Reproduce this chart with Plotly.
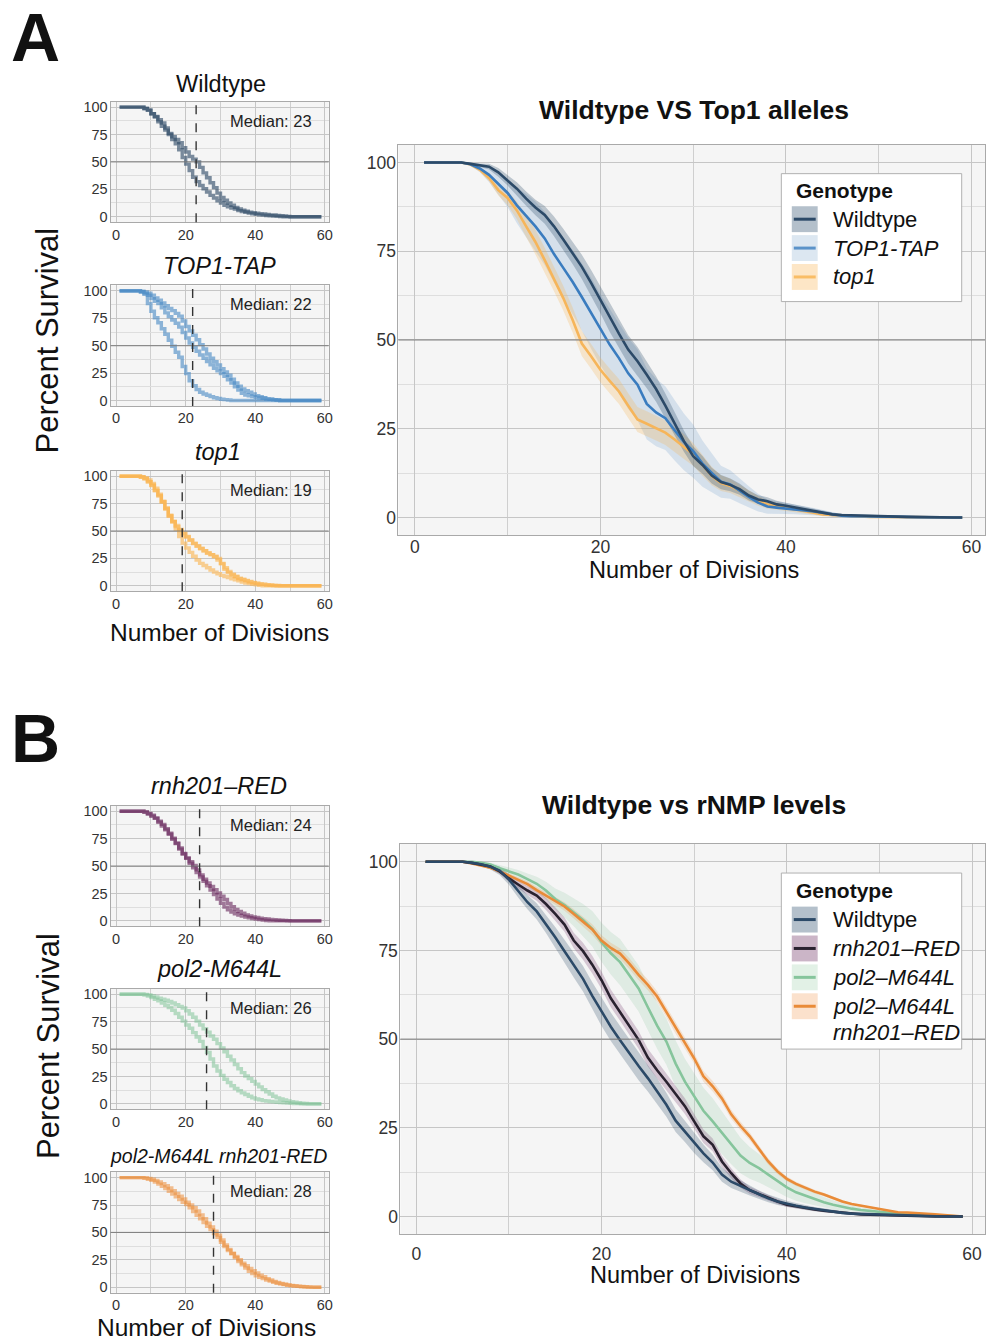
import plotly.graph_objects as go

W, H = 989, 1342
FONT = "Liberation Sans, Arial, sans-serif"
DIV = list(range(1, 60))

# ---------------- Panel A big plot: mean % survival and CI half-width ----------------
WT_A = [100,100,100,100,100, 99.6,99.2,98.8,97.2,95, 92.6,89.8,87.3,85.2,82, 78.3,74.6,70.6,66.1,61.3,
        56.3,51.8,47.3,44,40.2, 36.2,31.5,26.4,21.5,17.3, 14.8,11.8,10,9.2,8, 6.2,5.1,4.6,3.7,3.3,
        2.8,2.4,1.9,1.4,0.9, 0.7,0.6,0.5,0.4,0.4, 0.3,0.3,0.2,0.2,0.1, 0.1,0,0,0]
WT_A_CI = [0,0,0,0,0, 0.3,0.5,0.8,1.2,1.5, 1.8,2,2.2,2.5,2.8, 3,3.2,3.4,3.6,3.8, 4,4,4,4,3.8,
           3.6,3.4,3.2,3,2.8, 2.5,2.2,2,1.8,1.6, 1.4,1.2,1.1,1,0.9, 0.8,0.7,0.6,0.5,0.5,
           0.4,0.4,0.3,0.3,0.3, 0.3,0.2,0.2,0.2,0.1, 0.1,0,0,0]
TAP_A = [100,100,100,100,100, 99.5,98.3,96.5,94,91.4, 87.9,85.1,82,78.6,74.2, 70.3,66.4,62.1,57.5,52.9,
         48.7,44.9,40.6,37.4,32, 29.6,28,24.6,21.3,18.7, 15.2,12.6,10.1,9.3,7.5, 5.8,4.2,3.1,2.8,2.6,
         2.3,2.0,1.7,1.3,0.9, 0.5,0.4,0.4,0.3,0.3, 0.3,0.2,0.2,0.1,0.1, 0.1,0,0,0]
TAP_A_CI = [0,0,0,0,0, 0.5,1,2,3,4, 5,6,7,7.5,8, 8.5,9,9.5,10,10, 10,10,10,10,10, 9.5,9,8.5,8,7.5,
            6.5,5.5,4.5,4,3.5, 3,2.5,2,1.8,1.6, 1.4,1.2,1,0.8,0.6, 0.4,0.4,0.3,0.3,0.3,
            0.3,0.2,0.2,0.1,0.1, 0.1,0,0,0]
TOP1_A = [100,100,100,100,100, 99.4,98,95.6,92.2,90, 86.5,82,77.6,72.5,67.2, 61.8,55.7,49,45.4,41.6,
          38.5,35.5,31.5,27.6,26.4, 25.2,23.9,22,20,17.8, 14.8,11.7,9.7,8.9,7.5, 6.1,4.7,3.7,3.2,2.8,
          2.3,1.9,1.4,0.9,0.7, 0.5,0.4,0.3,0.2,0.2, 0.1,0.1,0.1,0,0, 0,0,0,0]
TOP1_A_CI = [0,0,0,0,0, 0.3,0.7,1,1.5,2, 2.5,3,3.5,3.5,3.5, 3.5,3.5,3.5,3.5,3.5, 3.5,3.5,3.5,3.5,3.5,
             3.5,3.5,3.5,3.5,3.2, 3,2.6,2.2,2,1.8, 1.6,1.4,1.2,1,0.9, 0.8,0.7,0.6,0.5,0.4,
             0.3,0.3,0.2,0.2,0.2, 0.1,0.1,0.1,0,0, 0,0,0,0]

# ---------------- Panel B big plot ----------------
WT_B = [100,100,100,100,100, 99.7,99.3,98.6,97.5,95, 91.7,88.6,86,82.5,78.7, 74.8,70.8,67,62.2,57.7,
        53.5,49.7,46,42.4,39, 35.4,31.5,27,24,20.7, 17.8,15.2,11.8,9.8,8.6, 7.3,6.1,5.1,4.2,3.5,
        3,2.5,2.1,1.8,1.4, 1,0.8,0.7,0.6,0.5, 0.4,0.3,0.2,0.2,0.1, 0.1,0,0,0]
WT_B_CI = [0,0,0,0,0, 0.3,0.5,0.8,1.2,1.5, 1.8,2,2.3,2.6,2.9, 3.2,3.4,3.6,3.8,4, 4,4,4,4,3.8,
           3.6,3.4,3.2,3,2.8, 2.5,2.2,2,1.8,1.6, 1.4,1.2,1.1,1,0.9, 0.8,0.7,0.6,0.5,0.5,
           0.4,0.4,0.3,0.3,0.3, 0.3,0.2,0.2,0.2,0.1, 0.1,0,0,0]
RNH_B = [100,100,100,100,100, 99.7,99.3,98.7,97.3,95.3, 93.6,91.9,90.5,88.1,85.3, 82.3,77.8,74.8,71,66.6,
         61.5,57.7,53.9,49.8,44.8, 41.2,38,34.5,31.1,26.8, 22.6,20.2,15.5,12.2,9.3, 7.4,6.3,5.2,4.2,3.3,
         2.8,2.4,2,1.6,1.3, 1,0.8,0.6,0.5,0.4, 0.3,0.2,0.2,0.1,0.1, 0,0,0,0]
RNH_B_CI = [0,0,0,0,0, 0.2,0.3,0.5,0.7,0.9, 1.1,1.3,1.5,1.7,1.9, 2,2.2,2.4,2.5,2.5, 2.5,2.5,2.5,2.5,2.5,
            2.5,2.4,2.3,2.2,2, 1.9,1.8,1.6,1.4,1.2, 1,0.9,0.8,0.7,0.6, 0.5,0.5,0.4,0.4,0.3,
            0.3,0.2,0.2,0.2,0.1, 0.1,0.1,0.1,0,0, 0,0,0,0]
POL2_B = [100,100,100,100,100, 100,99.7,99.2,98.2,97.3, 96.4,95.1,93.8,91.9,89.5, 87.8,85.8,83.6,81.1,77.3,
          74.2,71.7,68,64.3,59, 53.8,49.3,43.1,38,33.8, 29.8,26.8,23.5,20.2,17.2, 15.1,13.6,11.8,9.9,8.2,
          6.8,5.8,4.8,4,3.3, 2.7,2.2,1.8,1.5,1.2, 1,0.8,0.6,0.5,0.4, 0.3,0.2,0.1,0]
POL2_B_CI = [0,0,0,0,0, 0,0.3,0.5,0.8,1, 1.3,1.6,2,2.5,3, 3.5,4,4.5,5,5.5, 6,6.5,6.5,6.5,6.5,
             6.5,6.5,6.5,6.5,6.5, 6.5,6.5,6,5.5,5, 4.5,4,3.5,3,2.7, 2.4,2.1,1.8,1.5,1.3,
             1.1,0.9,0.8,0.6,0.5, 0.4,0.4,0.3,0.3,0.2, 0.2,0.1,0.1,0]
PR_B = [100,100,100,100,100, 99.5,99,98.3,97.3,96.1, 95,93.7,92,90.4,89, 87.4,85.3,83.2,80.9,77.8,
        75.7,74.1,71.3,68.1,65.3, 62,57.7,53,48.8,44.6, 39.5,36.7,33.3,28.8,25.5, 22.6,19,15.5,12.7,10.6,
        9.2,8.1,7,6.2,5.2, 4.2,3.5,3,2.5,2, 1.6,1.2,1.1,1,0.8, 0.6,0.4,0.2,0]
PR_B_CI = [0,0,0,0,0, 0.2,0.3,0.4,0.5,0.6, 0.7,0.8,0.9,1,1.1, 1.2,1.3,1.4,1.5,1.5, 1.5,1.5,1.5,1.5,1.5,
           1.5,1.5,1.5,1.5,1.5, 1.5,1.5,1.4,1.3,1.2, 1.1,1,0.9,0.8,0.7, 0.6,0.6,0.5,0.5,0.4,
           0.4,0.3,0.3,0.3,0.2, 0.2,0.2,0.1,0.1,0.1, 0.1,0,0,0]

# ---------------- Replicates (small panels) ----------------
WT_R1 = [100,100,100,100,100, 100,100,98.5,97,94, 91.5,88.5,85.5,81,76, 73,70.5,67.5,63,59,
         55,52.5,50,45,40, 35.5,31,26.5,21.5,17.5, 15,12.5,10.5,8.5,7, 6,5,4.2,3.7,3.2,
         2.8,2.4,2,1.7,1.5, 1.2,0.9,0.6,0.3,0, 0,0,0,0,0, 0,0,0,0]
WT_R2 = [100,100,100,100,100, 100,100,99,97.5,94, 91,86.5,82.5,79,75, 70.5,66.5,61,54,48,
         42,36,32,28.5,25.5, 22.5,19.5,17,14.5,12.5, 10.5,9,8,7,5.5, 4.8,4,3.3,2.7,2.1,
         1.7,1.4,1.1,0.8,0.6, 0.4,0.2,0,0,0, 0,0,0,0,0, 0,0,0,0]
TAP_R1 = [100,100,100,100,100, 100,99,97,88.5,81.5, 75.5,71,65.5,60.5,55, 49.5,44,39.5,31,24.5,
          18,13.5,10,7.5,6, 4.8,3.5,2.5,1.8,1.2, 0.8,0.4,0,0,0, 0,0,0,0,0,
          0,0,0,0,0, 0,0,0,0,0, 0,0,0,0,0, 0,0,0,0]
TAP_R2 = [100,100,100,100,100, 100,99.5,98,96,93, 90.5,88.5,84.5,80,76.5, 73.5,70.5,67,62,57,
          52.5,48.5,45,41.5,38.5, 35.5,32.5,29.5,27,24.5, 22,19,16,12.5,9.5, 6.5,5,4.2,3.5,3,
          2.5,2,1.5,1.1,0.8, 0.4,0,0,0,0, 0,0,0,0,0, 0,0,0,0]
TAP_R3 = [100,100,100,100,100, 100,99.5,99,98,96, 93.5,91.5,89,86.5,84, 82,79.5,77,72.5,67.5,
          63.5,59.5,55.5,51,47, 42.5,38.5,35.5,32.5,29, 26,23,19.5,16,13, 10.5,9,7.5,6,4.5,
          3.5,2.5,1.5,1.2,0.8, 0.4,0,0,0,0, 0,0,0,0,0, 0,0,0,0]
TOP1_R1 = [100,100,100,100,100, 100,99,97.5,95,92, 87,82.5,77,71,64.5, 58.5,51.5,45,39,34.5,
           30.5,27,23.5,20.5,18.5, 16.5,14.5,12.5,11,9.5, 8.5,7.5,6.5,5.5,4.5, 3.5,2.6,2,1.4,1,
           0.5,0,0,0,0, 0,0,0,0,0, 0,0,0,0,0, 0,0,0,0]
TOP1_R2 = [100,100,100,100,100, 100,99.5,98,95,91.5, 87,82,76.5,70.5,64, 59,55,51.5,48,45,
           42,39,36.5,34,32, 30,28.5,27,25,20, 15,12,10,8.5,7, 6,5,4,3,2.4,
           1.8,1.3,0.9,0.5,0.2, 0,0,0,0,0, 0,0,0,0,0, 0,0,0,0]
TOP1_R3 = [100,100,100,100,100, 100,99.5,98.5,96.5,93.5, 89,83.5,77,70,63.5, 58.5,54,50.5,47.5,44.5,
           41.5,38.5,36,34,32, 30,28.5,26.5,23.5,20.5, 16.5,13,10.5,8.5,6.5, 5.5,4.5,3.5,2.8,2.2,
           1.8,1.4,1,0.7,0.5, 0.3,0.1,0,0,0, 0,0,0,0,0, 0,0,0,0]
RNH_R1 = [100,100,100,100,100, 100,100,99.5,98,96.5, 94,91,88,84,80, 75.5,71,65.5,61,57.5,
          54,50.5,46.5,42,38, 34.5,31.5,28.5,25.5,22.5, 19.5,16,13,10.5,8.5, 7,5.5,4.5,3.6,3,
          2.5,2,1.7,1.4,1.1, 0.8,0.6,0.4,0.2,0, 0,0,0,0,0, 0,0,0,0]
RNH_R2 = [100,100,100,100,100, 100,100,99,97.5,95.5, 93.5,90,86.5,83,79, 74.5,70.5,66.5,61.5,57,
          52.5,48.5,44,40,36, 32,28,24,20,16, 12.5,10,8,6.5,5.2, 4.3,3.5,2.8,2.1,1.6,
          1.1,0.7,0.3,0,0, 0,0,0,0,0, 0,0,0,0,0, 0,0,0,0]
POL2_R1 = [100,100,100,100,100, 100,100,99.5,98.5,97, 95.5,94,92,90,88, 85.5,82.5,79,75.5,72,
           69,65,61,57,51.5, 47,41,34.5,30,26, 22.5,19.5,16.5,14,12, 10,8.5,7,5.5,4.5,
           3.7,3,2.6,2.2,1.8, 1.5,1.2,1,0.8,0.6, 0.4,0.2,0,0,0, 0,0,0,0]
POL2_R2 = [100,100,100,100,100, 100,100,99.8,99.5,98.5, 97.5,96.5,95.5,94.5,93.5, 92,90.5,89,87.5,85,
           82,79,75.5,72,68.5, 65.5,62,59,55,51, 47.5,43.5,40,36,32, 28.5,25.5,23,20.5,18,
           15.5,13,11,9,7, 5.5,4.5,3.5,2.7,2, 1.5,1,0.6,0.3,0, 0,0,0,0]
PR_R1 = [100,100,100,100,100, 100,100,99.7,99.3,98.5, 97.5,96,94.5,92.5,90.5, 88,85.5,83,80.5,77.5,
         75,72.5,69.5,66,62.5, 58.5,55,51,47.5,43, 38.5,34.5,31,28,25, 22,19.5,17,15,13,
         11,9.5,7.8,6.5,5.3, 4.3,3.4,2.7,2.1,1.6, 1.3,1,0.7,0.5,0.3, 0.1,0,0,0]
PR_R2 = [100,100,100,100,100, 100,100,99.5,98.5,97.5, 96,94,92,90,87.5, 85,82.5,80,77.5,75.5,
         72.5,69,65.5,62.5,59, 55.5,52.5,49,45.5,41, 37,33.5,30.5,27,23.5, 20.5,17.5,14.5,12.5,10.5,
         9,7.8,6.6,5.5,4.5, 3.6,3,2.4,1.8,1.4, 1,0.7,0.4,0.2,0, 0,0,0,0]

MEDIANS = {"Wildtype": 23, "TOP1-TAP": 22, "top1": 19, "rnh201-RED": 24, "pol2-M644L": 26, "pol2-M644L rnh201-RED": 28}
X_TICKS = [0, 20, 40, 60]
Y_TICKS = [0, 25, 50, 75, 100]

# ---------------- layout geometry (pixels) ----------------
def fx(px):
    return px / W

def fy(py):
    return 1 - py / H

# id, left, right, top, bottom, xrange, kind, x-tick-label standoff
PANELS = [
    (1, 111, 330, 100.0, 221.0, [-1.6, 61.1], "small", -1),
    (2, 111, 330, 284.5, 405.5, [-1.6, 61.1], "small", -1),
    (3, 111, 330, 470.5, 591.5, [-1.6, 61.1], "small", -1),
    (4, 400, 989, 143.2, 535.3, [-1.77, 61.45], "big", -4),
    (5, 111, 330, 806.8, 927.8, [-1.6, 61.1], "small", -1),
    (6, 111, 330, 990.5, 1111.5, [-1.6, 61.1], "small", -1),
    (7, 111, 330, 1174.5, 1295.5, [-1.6, 61.1], "small", -1),
    (8, 402, 989, 845.2, 1236.8, [-1.72, 61.4], "big", 4),
]

fig = go.Figure()
layout = {}
shapes = []
annotations = []

def axid(i):
    return ("x" if i == 1 else f"x{i}"), ("y" if i == 1 else f"y{i}")

for (i, l, r, t, b, xr, kind, xso) in PANELS:
    xk = "xaxis" if i == 1 else f"xaxis{i}"
    yk = "yaxis" if i == 1 else f"yaxis{i}"
    xa, ya = axid(i)
    fs = 14.5 if kind == "small" else 17.5
    common = dict(showline=True, mirror=True, linecolor="#a9a9a9", linewidth=1,
                  zeroline=False, showgrid=True, gridcolor="#c6c6c6", gridwidth=1,
                  ticks="", tickfont=dict(family=FONT, size=fs, color="#333333"))
    layout[xk] = dict(domain=[fx(l), fx(r)], range=xr, anchor=ya, tickvals=X_TICKS,
                      ticklabelstandoff=xso,
                      minor=dict(tickvals=[10, 30, 50], showgrid=True, gridcolor="#cfcfcf"),
                      **common)
    layout[yk] = dict(domain=[fy(b), fy(t)], range=[-5, 105], anchor=xa, tickvals=Y_TICKS,
                      ticklabelstandoff=(-2 if kind == "big" else -1),
                      minor=dict(tickvals=[12.5, 37.5, 62.5, 87.5], showgrid=True, gridcolor="#dedede"),
                      **common)
    # darker 50% reference line
    shapes.append(dict(type="line", xref=f"{xa} domain", yref=ya, x0=0, x1=1, y0=50, y1=50,
                       line=dict(color="#7d7d7d", width=1), layer="above"))

def add_line(i, y, color, width=2.6, opacity=1.0, shape="linear"):
    xa, ya = axid(i)
    fig.add_trace(go.Scatter(x=DIV[:len(y)], y=y, xaxis=xa, yaxis=ya, mode="lines",
                             line=dict(color=color, width=width, shape=shape),
                             opacity=opacity, showlegend=False, hoverinfo="skip"))

def add_band(i, mean, ci, rgba):
    xa, ya = axid(i)
    hi = [min(100.0, m + c) for m, c in zip(mean, ci)]
    lo = [max(0.0, m - c) for m, c in zip(mean, ci)]
    xs = DIV[:len(mean)]
    fig.add_trace(go.Scatter(x=xs + xs[::-1], y=hi + lo[::-1], xaxis=xa, yaxis=ya,
                             mode="lines", fill="toself", fillcolor=rgba,
                             line=dict(width=0), showlegend=False, hoverinfo="skip"))

# ---------------- small panels ----------------
SMALL = [
    (1, [WT_R1, WT_R2], "#2e4a66", 0.62, "Wildtype"),
    (2, [TAP_R1, TAP_R2, TAP_R3], "#4b8cc6", 0.62, "TOP1-TAP"),
    (3, [TOP1_R1, TOP1_R2, TOP1_R3], "#fbb552", 0.62, "top1"),
    (5, [RNH_R1, RNH_R2], "#6c2c60", 0.62, "rnh201-RED"),
    (6, [POL2_R1, POL2_R2], "#80c398", 0.55, "pol2-M644L"),
    (7, [PR_R1, PR_R2], "#ec8d3a", 0.55, "pol2-M644L rnh201-RED"),
]
for (i, reps, col, op, name) in SMALL:
    for rep in reps:
        add_line(i, rep, col, width=3.4, opacity=op, shape="hv")
    xa, ya = axid(i)
    shapes.append(dict(type="line", xref=xa, yref=f"{ya} domain", x0=MEDIANS[name], x1=MEDIANS[name],
                       y0=0, y1=1, line=dict(color="#333333", width=1.4, dash="dash"), layer="above"))
    top = [p for p in PANELS if p[0] == i][0][3]
    annotations.append(dict(text=f"Median: {MEDIANS[name]}", xref="paper", yref="paper",
                            x=fx(315), y=fy(top + 19), xanchor="right", yanchor="middle",
                            showarrow=False, font=dict(family=FONT, size=16.5, color="#222222")))

# ---------------- big panels ----------------
add_band(4, TAP_A, TAP_A_CI, "rgba(58,124,191,0.17)")
add_band(4, TOP1_A, TOP1_A_CI, "rgba(246,182,92,0.28)")
add_band(4, WT_A, WT_A_CI, "rgba(44,74,104,0.28)")
add_line(4, TOP1_A, "#f6b55a")
add_line(4, TAP_A, "#3a7cbf")
add_line(4, WT_A, "#2c4a68")

add_band(8, POL2_B, POL2_B_CI, "rgba(134,197,156,0.2)")
add_band(8, PR_B, PR_B_CI, "rgba(233,139,56,0.2)")
add_band(8, RNH_B, RNH_B_CI, "rgba(120,60,110,0.25)")
add_band(8, WT_B, WT_B_CI, "rgba(44,74,104,0.25)")
add_line(8, POL2_B, "#86c59c")
add_line(8, PR_B, "#e98b38")
add_line(8, RNH_B, "#2a2230")
add_line(8, WT_B, "#2c4a68")

# ---------------- text ----------------
def txt(s, x, y, size, italic=False, bold=False, anchor="center", angle=0, color="#111111"):
    if italic:
        s = f"<i>{s}</i>"
    if bold:
        s = f"<b>{s}</b>"
    annotations.append(dict(text=s, xref="paper", yref="paper", x=fx(x), y=fy(y),
                            xanchor=anchor, yanchor="middle", showarrow=False, textangle=angle,
                            font=dict(family=FONT, size=size, color=color)))

txt("A", 36, 35, 68, bold=True)
txt("B", 36, 739, 68, bold=True)
txt("Percent Survival", 48, 340, 31, angle=-90)
txt("Percent Survival", 48, 1048, 31, angle=-90)

txt("Wildtype", 222, 82, 23.5)
txt("TOP1-TAP", 220, 265, 23.5, italic=True)
txt("top1", 219, 452, 23.5, italic=True)
txt("Number of Divisions", 220, 633, 24.5)
txt("rnh201\u2013RED", 220, 787, 23.5, italic=True)
txt("pol2-M644L", 220, 971, 23.5, italic=True)
txt("pol2-M644L rnh201-RED", 219, 1158, 19.5, italic=True)
txt("Number of Divisions", 207, 1330, 24.5)

txt("Wildtype VS Top1 alleles", 697, 108, 26.5, bold=True)
txt("Number of Divisions", 697, 570, 23.5)
txt("Wildtype vs rNMP levels", 697, 806, 26.5, bold=True)
txt("Number of Divisions", 698, 1278, 23.5)

# ---------------- legends (drawn manually) ----------------
def legend(box, title_y, entries):
    x0, y0, x1, y1 = box
    shapes.append(dict(type="rect", xref="paper", yref="paper", x0=fx(x0), x1=fx(x1), y0=fy(y1), y1=fy(y0),
                       fillcolor="white", line=dict(color="#b0b0b0", width=1), layer="above"))
    txt("Genotype", 797, title_y, 21, bold=True, anchor="left")
    for (yc, sw, lc, labels, ital) in entries:
        shapes.append(dict(type="rect", xref="paper", yref="paper", x0=fx(795), x1=fx(821),
                           y0=fy(yc + 13), y1=fy(yc - 13), fillcolor=sw, line=dict(width=0), layer="above"))
        shapes.append(dict(type="line", xref="paper", yref="paper", x0=fx(797), x1=fx(819),
                           y0=fy(yc), y1=fy(yc), line=dict(color=lc, width=3), layer="above"))
        for k, lab in enumerate(labels):
            txt(lab, 834, yc + k * 26, 22, italic=ital, anchor="left")

legend((784.5, 172.3, 965.6, 300.7), 189, [
    (218, "#b4c0cb", "#2c4a68", ["Wildtype"], False),
    (247, "#dce7f1", "#5b93c9", ["TOP1-TAP"], True),
    (276, "#fde6c6", "#f9bd66", ["top1"], True),
])
legend((784.5, 874.3, 965.6, 1051), 892, [
    (921, "#b4c0cb", "#2c4a68", ["Wildtype"], False),
    (950, "#cbb5c7", "#2a2230", ["rnh201\u2013RED"], True),
    (979, "#e2f1e6", "#86c59c", ["pol2\u2013M644L"], True),
    (1008, "#fbe1cc", "#e98b38", ["pol2\u2013M644L", "rnh201\u2013RED"], True),
])

fig.update_layout(width=W, height=H, margin=dict(l=0, r=0, t=0, b=0),
                  paper_bgcolor="white", plot_bgcolor="#f5f5f5", showlegend=False,
                  shapes=shapes, annotations=annotations, **layout)
fig.write_html("out.html", config={"displayModeBar": False},
               post_script="document.body.style.margin='0';document.body.style.overflow='hidden';")
